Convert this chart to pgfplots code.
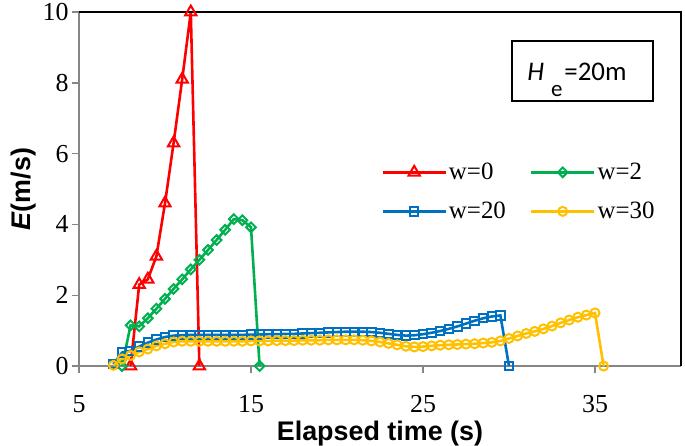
\documentclass[border=0pt]{standalone}
\usepackage{pgfplots}
\pgfplotsset{compat=1.18}
\usepackage{fontspec}
\setmainfont{Liberation Serif}
\setsansfont{Liberation Sans}
\newfontfamily\calibri{Carlito}

\definecolor{cred}{RGB}{255,0,0}
\definecolor{cgreen}{RGB}{0,176,80}
\definecolor{cblue}{RGB}{0,112,192}
\definecolor{cyellow}{RGB}{255,192,0}
\definecolor{cgrey}{RGB}{134,134,134}

\begin{document}
\begin{tikzpicture}
\begin{axis}[name=ax,
 scale only axis, width=602bp, height=354bp,
 xmin=5, xmax=40, ymin=0, ymax=10,
 xtick={5,15,25,35}, ytick={0,2,...,10},
 axis x line*=bottom, axis y line*=left,
 axis line style={cgrey, line width=2bp, -},
 tick style={cgrey, line width=1.5bp},
 tick align=outside, major tick length=7bp,
 /pgf/number format/assume math mode=true,
 ticklabel style={font=\fontsize{26}{30}\selectfont},
 xticklabel style={inner sep=0pt, yshift=-22bp},
 xlabel={\sffamily\bfseries Elapsed time (s)},
 ylabel={\sffamily\bfseries\itshape E\upshape(m/s)},
 xlabel style={at={(axis description cs:0.5,0)}, anchor=base, inner sep=0pt, yshift=-74bp},
 label style={font=\fontsize{27}{31}\selectfont},
 legend columns=2,
 legend image code/.code={\draw[mark repeat=2,mark phase=2,#1] plot coordinates {(0bp,0bp)(31.5bp,0bp)(63bp,0bp)};},
 legend style={draw=none, fill=none, at={(0.502,0.579)}, anchor=north west, inner sep=0pt,
   font=\fontsize{25}{28}\selectfont, row sep=17bp,
   /tikz/every even column/.append style={column sep=22bp}},
 legend cell align=left,
 clip=false,
]
\addplot[cred, line width=2.6bp, mark=triangle, mark size=6.5bp, mark options={solid, fill=white, line width=2bp}]
coordinates {(8,0)(8.5,2.3)(9,2.45)(9.5,3.1)(10,4.6)(10.5,6.3)(11,8.1)(11.5,10)(12,0)};
\addlegendentry{w=0}
\addplot[cgreen, line width=2.6bp, mark=square, mark size=3.4bp, mark options={solid, fill=white, rotate=45, line width=2bp}]
coordinates {(7.5,0)(8,1.15)(8.5,1.12)(9,1.35)(9.5,1.62)(10,1.9)(10.5,2.18)(11,2.45)(11.5,2.73)(12,3.0)(12.5,3.28)(13,3.56)(13.5,3.85)(14,4.15)(14.5,4.12)(15,3.92)(15.5,0)};
\addlegendentry{w=2}
\addplot[cblue, line width=2.6bp, mark=square, mark size=4.2bp, mark options={solid, fill=white, line width=2bp}]
coordinates {(7,0.05)(7.5,0.38)(8,0.43)(8.5,0.55)(9,0.66)(9.5,0.75)(10,0.82)(10.5,0.86)(11,0.87)(11.5,0.88)(12,0.88)(12.5,0.88)(13,0.88)(13.5,0.88)(14,0.88)(14.5,0.88)(15,0.89)(15.5,0.89)(16,0.9)(16.5,0.9)(17,0.91)(17.5,0.91)(18,0.92)(18.5,0.93)(19,0.94)(19.5,0.95)(20,0.96)(20.5,0.97)(21,0.97)(21.5,0.97)(22,0.96)(22.5,0.94)(23,0.91)(23.5,0.88)(24,0.86)(24.5,0.87)(25,0.9)(25.5,0.94)(26,0.99)(26.5,1.05)(27,1.12)(27.5,1.2)(28,1.28)(28.5,1.35)(29,1.4)(29.5,1.43)(30,0)};
\addlegendentry{w=20}
\addplot[cyellow, line width=2.6bp, mark=o, mark size=4.5bp, mark options={solid, fill=white, line width=2bp}]
coordinates {(7,0.02)(7.5,0.2)(8,0.3)(8.5,0.4)(9,0.48)(9.5,0.57)(10,0.63)(10.5,0.68)(11,0.7)(11.5,0.7)(12,0.7)(12.5,0.7)(13,0.7)(13.5,0.7)(14,0.7)(14.5,0.7)(15,0.71)(15.5,0.71)(16,0.71)(16.5,0.72)(17,0.72)(17.5,0.72)(18,0.73)(18.5,0.73)(19,0.73)(19.5,0.74)(20,0.74)(20.5,0.74)(21,0.74)(21.5,0.73)(22,0.71)(22.5,0.68)(23,0.64)(23.5,0.6)(24,0.56)(24.5,0.54)(25,0.55)(25.5,0.57)(26,0.59)(26.5,0.6)(27,0.61)(27.5,0.62)(28,0.63)(28.5,0.65)(29,0.67)(29.5,0.71)(30,0.78)(30.5,0.85)(31,0.92)(31.5,0.98)(32,1.05)(32.5,1.13)(33,1.22)(33.5,1.3)(34,1.38)(34.5,1.44)(35,1.5)(35.5,0)};
\addlegendentry{w=30}
\draw[black, line width=2.5bp] (rel axis cs:0,1) -- (rel axis cs:1,1) -- (rel axis cs:1,0);
\node[draw=black, line width=1.5bp, minimum width=141bp, minimum height=60bp, inner sep=0pt] at (axis cs:34.27,8.33) {};
\node[anchor=base west, inner sep=0pt, font=\calibri\fontsize{27}{30}\selectfont] at (axis cs:31.05,8.08) {\textit{H}\hspace{7bp}\raisebox{-16bp}{\fontsize{23}{23}\selectfont e}\hspace{2bp}=20m};
\end{axis}
\path ([shift={(-79bp,-79bp)}]ax.south west) rectangle ([shift={(4bp,9bp)}]ax.north east);
\end{tikzpicture}
\end{document}
